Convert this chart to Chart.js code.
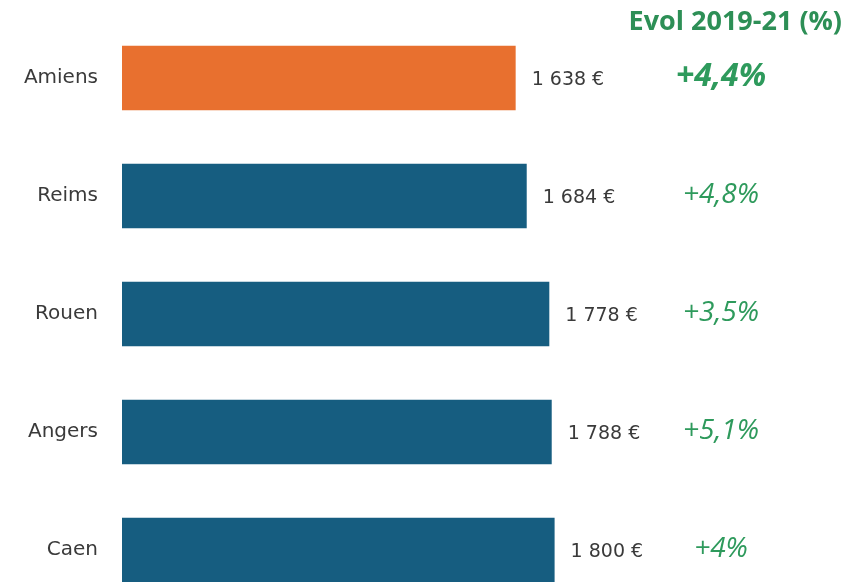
<!DOCTYPE html>
<html>
<head>
<meta charset="utf-8">
<script src="https://cdn.jsdelivr.net/npm/chart.js@4/dist/chart.umd.min.js"></script>
<style>
  html, body { margin: 0; padding: 0; background: #fff; overflow: hidden; }
  #wrap { width: 847px; height: 582px; overflow: hidden; }
  #rentChart { display: block; }
</style>
</head>
<body>
<div id="wrap"><canvas id="rentChart" width="847" height="620"></canvas></div>
<script>
const cities = ['Amiens', 'Reims', 'Rouen', 'Angers', 'Caen'];
const prices = [1638, 1684, 1778, 1788, 1800];
const evolutions = ['+4,4%', '+4,8%', '+3,5%', '+5,1%', '+4%'];
const barColors = ['#e8702f', '#165d80', '#165d80', '#165d80', '#165d80'];
const evolTitle = 'Evol 2019-21 (%)';

const GREEN = '#2e9a5c';

function formatEuro(v) {
  return v.toString().replace(/\B(?=(\d{3})+(?!\d))/g, ' ') + ' €';
}

const labelsPlugin = {
  id: 'sideLabels',
  afterDatasetsDraw(chart) {
    const ctx = chart.ctx;
    const meta = chart.getDatasetMeta(0);
    ctx.save();
    meta.data.forEach(function(bar, i) {
      // value next to the bar
      ctx.font = '19px "DejaVu Sans"';
      ctx.fillStyle = '#3a3a3a';
      ctx.textAlign = 'left';
      ctx.textBaseline = 'middle';
      ctx.fillText(formatEuro(prices[i]), bar.x + 16, bar.y + 2);

      // evolution column
      ctx.fillStyle = GREEN;
      ctx.textAlign = 'center';
      ctx.font = i === 0 ? 'italic bold 32px "Open Sans"' : 'italic 28px "Open Sans"';
      ctx.fillText(evolutions[i], 721, bar.y - 1);
    });

    ctx.font = 'bold 27px "Open Sans"';
    ctx.fillStyle = '#2d8f56';
    ctx.textAlign = 'right';
    ctx.textBaseline = 'middle';
    ctx.fillText(evolTitle, 842, 22);
    ctx.restore();
  }
};

const ctx = document.getElementById('rentChart').getContext('2d');

new Chart(ctx, {
  type: 'bar',
  data: {
    labels: cities,
    datasets: [{
      data: prices,
      backgroundColor: barColors,
      borderWidth: 0,
      categoryPercentage: 1,
      barPercentage: 0.545
    }]
  },
  options: {
    indexAxis: 'y',
    responsive: false,
    animation: false,
    layout: {
      padding: { top: 19, bottom: 11, left: 0, right: 4 }
    },
    scales: {
      x: {
        display: false,
        min: 0,
        max: 3000
      },
      y: {
        grid: { display: false, drawTicks: false },
        border: { display: false },
        ticks: {
          color: '#3a3a3a',
          padding: 24,
          font: { family: 'DejaVu Sans', size: 20 }
        },
        afterFit: function(scale) {
          scale.width = 122;
          // labels should not push the plot area down
          scale.paddingTop = 0;
          scale.paddingBottom = 0;
        }
      }
    },
    plugins: {
      legend: { display: false },
      tooltip: { enabled: false }
    }
  },
  plugins: [labelsPlugin]
});
</script>
</body>
</html>
